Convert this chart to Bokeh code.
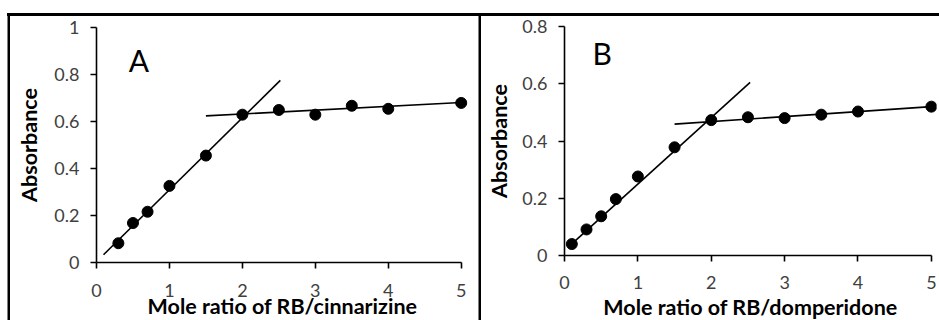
from bokeh.plotting import figure
from bokeh.layouts import column, row
from bokeh.models import Range1d, Label, Spacer, FixedTicker, NumeralTickFormatter
from bokeh.embed import file_html
from bokeh.resources import INLINE

# ---- Panel A: RB / cinnarizine ----
a_ratio = [0.3, 0.5, 0.7, 1.0, 1.5, 2.0, 2.5, 3.0, 3.5, 4.0, 5.0]
a_abs = [0.082, 0.168, 0.216, 0.326, 0.455, 0.629, 0.649, 0.629, 0.667, 0.654, 0.679]
a_rise_x = [0.096, 2.52]
a_rise_y = [0.033, 0.775]
a_plateau_x = [1.5, 5.0]
a_plateau_y = [0.624, 0.681]

# ---- Panel B: RB / domperidone ----
b_ratio = [0.1, 0.3, 0.5, 0.7, 1.0, 1.5, 2.0, 2.5, 3.0, 3.5, 4.0, 5.0]
b_abs = [0.040, 0.091, 0.137, 0.197, 0.276, 0.378, 0.473, 0.483, 0.480, 0.492, 0.503, 0.520]
b_rise_x = [0.055, 2.53]
b_rise_y = [0.030, 0.605]
b_plateau_x = [1.5, 5.0]
b_plateau_y = [0.459, 0.520]

x_ticks = [0, 1, 2, 3, 4, 5]
a_y_ticks = [0, 0.2, 0.4, 0.6, 0.8, 1.0]
b_y_ticks = [0, 0.2, 0.4, 0.6, 0.8]

FONT = "Lato"
TICK_COLOR = "#404040"
H = 340          # canvas height; the page clips everything below 320 px
VIEW_H = 320


def panel(width, mb_left, mb_right, mb_top, mb_bottom, x_end, y_end, y_ticks,
          xs, ys, rx, ry, px, py, xlabel, letter, lx, ly,
          x_standoff, x_label_standoff, y_label_standoff):
    p = figure(width=width, height=H, output_backend="svg", toolbar_location=None,
               x_range=Range1d(0, x_end), y_range=Range1d(0, y_end),
               min_border_left=mb_left, min_border_right=mb_right,
               min_border_top=mb_top, min_border_bottom=mb_bottom,
               background_fill_color="white", border_fill_color="white",
               styles={"min-height": f"{H}px", "flex-shrink": "0"})
    if "frame_align" in p.properties():
        p.frame_align = False
    p.outline_line_color = None
    p.grid.visible = False
    p.line(rx, ry, line_color="black", line_width=1.6)
    p.line(px, py, line_color="black", line_width=1.6)
    p.scatter(xs, ys, size=11, fill_color="black", line_color="black")

    p.xaxis.bounds = (0, 5)
    p.xaxis.ticker = FixedTicker(ticks=x_ticks)
    p.yaxis.ticker = FixedTicker(ticks=y_ticks)
    p.yaxis.bounds = (0, y_end)
    p.yaxis.formatter = NumeralTickFormatter(format="0.[0]")
    for ax in (p.xaxis, p.yaxis):
        ax.axis_line_color = "black"
        ax.axis_line_width = 1.6
        ax.major_tick_line_color = "black"
        ax.major_tick_line_width = 1.6
        ax.major_tick_in = 0
        ax.major_tick_out = 6
        ax.minor_tick_line_color = None
        ax.major_label_text_font = FONT
        ax.major_label_text_font_size = "18px"
        ax.major_label_text_color = TICK_COLOR
        ax.axis_label_text_font = FONT
        ax.axis_label_text_font_style = "bold"
        ax.axis_label_text_font_size = "21.5px"
        ax.axis_label_text_color = "black"
    p.xaxis.major_label_standoff = x_standoff
    p.xaxis.axis_label_standoff = x_label_standoff
    p.yaxis.major_label_standoff = 11
    p.yaxis.axis_label_standoff = y_label_standoff
    p.xaxis.axis_label = xlabel
    p.yaxis.axis_label = "Absorbance"

    p.add_layout(Label(x=lx, y=ly, text=letter, text_font=FONT, text_font_size="30px",
                       text_align="center", text_baseline="middle", text_color="black"))
    return p


# frame: A spans y 27..262, B spans y 26..255 of the page
pA = panel(468, 86, 10, 27, H - 27 - 235, 5.1, 1.0, a_y_ticks,
           a_ratio, a_abs, a_rise_x, a_rise_y, a_plateau_x, a_plateau_y,
           "Mole ratio of RB/cinnarizine", "A", 0.58, 0.862, 15, -7, 9)
pB = panel(458, 83, 3, 26, H - 26 - 229, 5.07, 0.8, b_y_ticks,
           b_ratio, b_abs, b_rise_x, b_rise_y, b_plateau_x, b_plateau_y,
           "Mole ratio of RB/domperidone", "B", 0.514, 0.706, 14, 2, 7)


def vbar(w, h):
    b = figure(width=w, height=h, output_backend="svg", toolbar_location=None,
               x_axis_type=None, y_axis_type=None, min_border=0,
               background_fill_color="black", border_fill_color="black",
               outline_line_color=None)
    b.grid.visible = False
    return b


# thin black rule across the top of both panels, laid over the figures
top_rule = Spacer(width=932, height=3, styles={
    "background-color": "black", "position": "absolute", "top": "13px",
    "left": "7px", "width": "932px", "height": "3px", "z-index": "10"})

panels = row(
    Spacer(width=7, height=H),
    column(Spacer(width=3, height=13), vbar(3, H - 13)),
    pA,
    column(Spacer(width=3, height=13), vbar(3, H - 13)),
    pB,
    top_rule,
    styles={"height": f"{H}px", "min-height": f"{H}px", "flex-shrink": "0"},
)

layout = column(panels, styles={"height": f"{VIEW_H}px", "overflow": "hidden"})

open("out.html", "w").write(file_html(layout, INLINE))
